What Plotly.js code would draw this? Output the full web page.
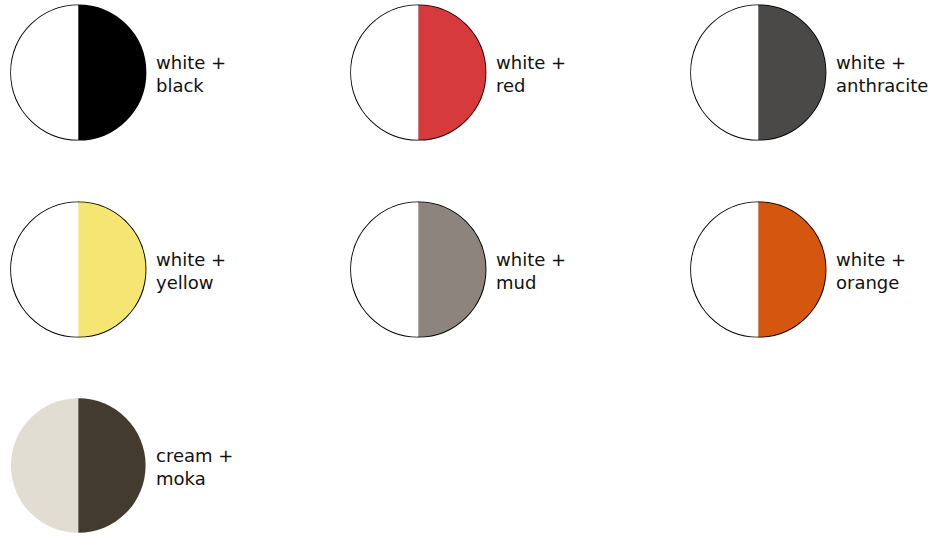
<!DOCTYPE html>
<html>
<head>
<meta charset="utf-8">
<script src="https://cdn.plot.ly/plotly-3.0.1.min.js"></script>
<style>html,body{margin:0;padding:0;background:#fff;}#chart{width:939px;height:537px;}</style>
</head>
<body>
<div id="chart"></div>
<script>
// Data
var names = ["white + black", "white + red", "white + anthracite", "white + yellow", "white + mud", "white + orange", "cream + moka"];
var leftNames = ["white", "white", "white", "white", "white", "white", "cream"];
var rightNames = ["black", "red", "anthracite", "yellow", "mud", "orange", "moka"];
var leftColors = ["#ffffff", "#ffffff", "#ffffff", "#ffffff", "#ffffff", "#ffffff", "#e2ddd3"];
var rightColors = ["#000000", "#d63a3d", "#4a4948", "#f5e674", "#8c847d", "#d4560f", "#433a30"];
var shares = [1, 1]; // each swatch is split half and half
var outlined = [true, true, true, true, true, true, false];

// Layout (pixel geometry)
var W = 939, H = 537;
var colX = [78.3, 418.3, 758.3];
var rowY = [72.5, 269.5, 465.5];
var R = 67.3;

var traces = [];
var annotations = [];
names.forEach(function (n, i) {
  var cx = colX[i % 3], cy = rowY[Math.floor(i / 3)];
  var dom = {
    x: [(cx - R) / W, (cx + R) / W],
    y: [(H - cy - R) / H, (H - cy + R) / H]
  };
  if (outlined[i]) {
    traces.push({
      type: "pie", values: [1], labels: [n + " outline"], domain: dom,
      marker: {colors: ["#ffffff"], line: {color: "#000000", width: 1.6}},
      textinfo: "none", hoverinfo: "skip", sort: false, showlegend: false
    });
  }
  traces.push({
    type: "pie", values: shares, labels: [leftNames[i], rightNames[i]], domain: dom,
    marker: {colors: [leftColors[i], rightColors[i]], line: {width: 0}},
    textinfo: "none", sort: false, direction: "clockwise", rotation: 180,
    showlegend: false, hovertemplate: n + "<extra></extra>"
  });
  var parts = n.split(" + ");
  annotations.push({
    xref: "paper", yref: "paper",
    x: (cx + 75.5) / W, y: (H - cy - 1.5) / H,
    xanchor: "left", yanchor: "middle", align: "left",
    text: parts[0] + " +<br>" + parts[1], showarrow: false,
    font: {family: "'DejaVu Sans', sans-serif", size: 18, color: "#111111"}
  });
});

var layout = {
  width: W, height: H,
  margin: {l: 0, r: 0, t: 0, b: 0},
  paper_bgcolor: "#ffffff", plot_bgcolor: "#ffffff",
  showlegend: false,
  annotations: annotations
};
Plotly.newPlot("chart", traces, layout, {displayModeBar: false, staticPlot: true});
</script>
</body>
</html>
